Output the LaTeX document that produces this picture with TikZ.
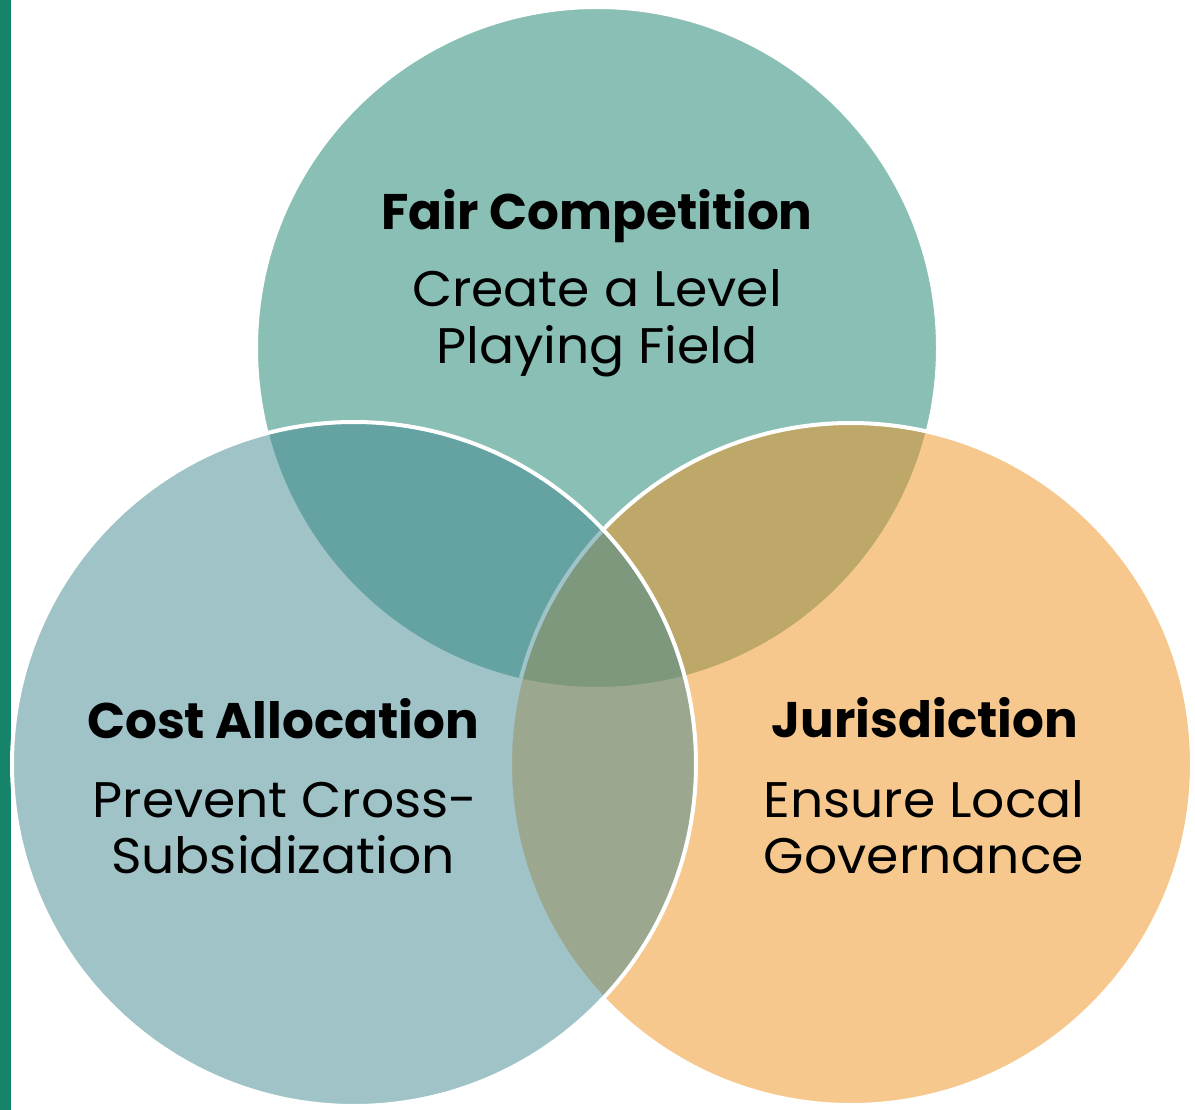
\documentclass[tikz,border=0pt]{standalone}
\usepackage{fontspec}
\setmainfont{Poppins}
\newfontfamily\bodyfont[FakeStretch=1.04]{Poppins}
\begin{document}
\begin{tikzpicture}[x=1pt,y=-1pt,
  ring/.style={draw=white,line width=4pt,fill opacity=0.5},
  head/.style={anchor=base,font=\fontsize{50}{60}\selectfont\bfseries,inner sep=0pt},
  body/.style={anchor=base,font=\bodyfont\fontsize{50}{60}\selectfont,inner sep=0pt}]
\definecolor{teal}{RGB}{21,129,107}
\definecolor{slate}{RGB}{65,137,145}
\definecolor{amber}{RGB}{241,147,31}
\definecolor{barcol}{RGB}{21,132,107}
\useasboundingbox (0,0) rectangle (1195,1110);
\fill[white] (0,0) rectangle (1195,1110);
\fill[barcol] (0,0) rectangle (11,1110);
% the three sets, painted top, right, left
\path[ring,fill=teal]  (597,348) circle[radius=341];
\path[ring,fill=amber] (851,764) circle[radius=341];
\path[ring,fill=slate] (354,764) circle[radius=342];
% labels
\node[head] (fc) at (597,230) {Fair Competition};
\node[body] (fc1) at (597,307) {Create a Level};
\node[body] (fc2) at (597,363) {Playing Field};
\node[head] (ca) at (283,738) {Cost Allocation};
\node[body] (ca1) at (285,817) {Prevent Cross-};
\node[body] (ca2) at (283,873) {Subsidization};
\node[head] (ju) at (925,737) {Jurisdiction};
\node[body] (ju1) at (924,817) {Ensure Local};
\node[body] (ju2) at (924,873) {Governance};
\end{tikzpicture}
\end{document}
